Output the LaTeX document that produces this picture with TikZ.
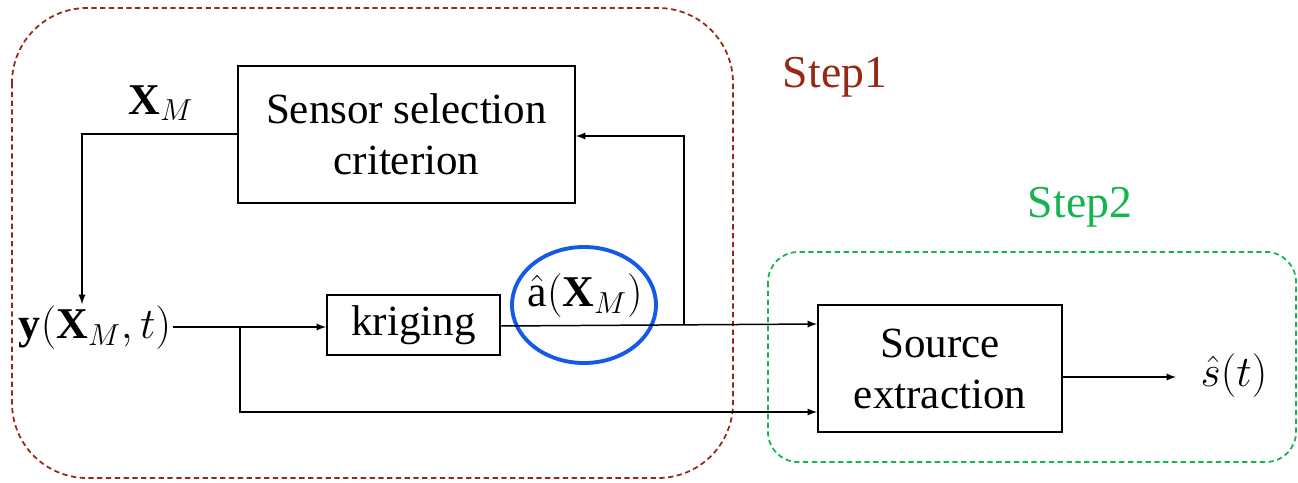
\documentclass[tikz,border=0pt]{standalone}
\usepackage{fontspec}
\setmainfont{Liberation Serif}
\usetikzlibrary{arrows}
\definecolor{stepbrown}{RGB}{150,40,20}
\definecolor{stepgreen}{RGB}{20,180,80}
\definecolor{circblue}{RGB}{20,90,230}
\tikzset{
  blk/.style={draw,line width=1.1pt,align=center,font=\fontsize{24.5}{29}\selectfont},
  lbl/.style={font=\fontsize{25}{30}\selectfont,inner sep=1pt},
  con/.style={line width=0.85pt,-latex},
  grp/.style={line width=1pt,dash pattern=on 3pt off 2pt}
}

\begin{document}
\begin{tikzpicture}[x=0.02cm,y=-0.02cm]
\useasboundingbox (0,0) rectangle (1298,483);
% groups
\draw[grp,stepbrown,rounded corners=1.5cm] (12,8) rectangle (733,478);
\draw[grp,stepgreen,rounded corners=0.6cm] (768,252) rectangle (1296,462);
\node[font=\fontsize{26}{31}\selectfont,text=stepbrown] (stepa) at (835,77) {Step1};
\node[font=\fontsize{26}{31}\selectfont,text=stepgreen] (stepb) at (1080,207) {Step2};
% blocks
\node[blk,minimum width=6.74cm,minimum height=2.74cm] (sel) at (406.5,134.5) {Sensor selection\\criterion};
\node[blk,minimum width=3.46cm,minimum height=1.2cm] (krig) at (413.5,325) {kriging};
\node[blk,minimum width=4.88cm,minimum height=2.54cm] (src) at (940,368.5) {Source\\extraction};
% labels
\node[lbl] (obs) at (95,328) {$\mathbf{y}(\mathbf{X}_M,t)$};
\node[lbl] (xm) at (161,103) {$\mathbf{X}_M$};
\node[lbl] (ahat) at (585,296) {$\hat{\mathrm{a}}(\mathbf{X}_M)$};
\node[lbl] (shat) at (1234,376) {$\hat{s}(t)$};
\draw[circblue,line width=2.2pt] (584,305) ellipse (72 and 58);
% connectors
\coordinate (br1) at (240,327);
\coordinate (br2) at (684,324);
\draw[con] (sel.west |- 0,134) -| (obs.north -| 82,0);
\draw[con] (obs.east |- 0,327) -- (krig.west |- 0,327);
\draw[con] (br1) |- (src.west |- 0,412);
\draw[con] (krig.east |- 0,326) -- (src.west |- 0,324);
\draw[con] (br2) |- (sel.east |- 0,136);
\draw[con] (src.east |- 0,377) -- (1176,377) coordinate (out);
\end{tikzpicture}
\end{document}
